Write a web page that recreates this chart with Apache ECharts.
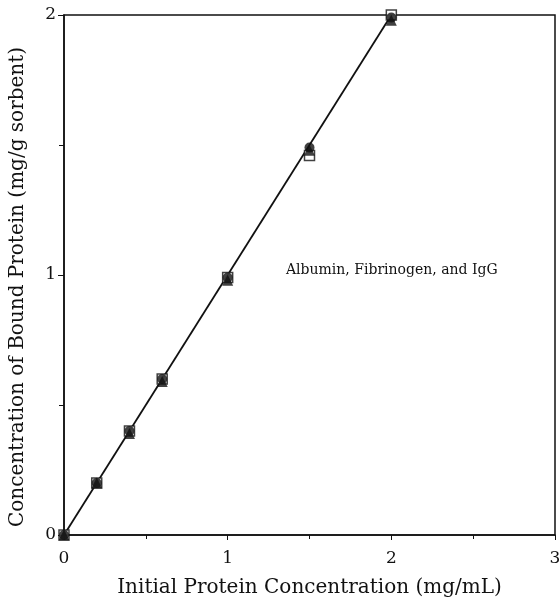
<!DOCTYPE html>
<html>
<head>
<meta charset="utf-8">
<script src="https://cdn.jsdelivr.net/npm/echarts@6/dist/echarts.min.js"></script>
<style>
  html, body { margin: 0; padding: 0; background: #fff; }
  #chart { width: 560px; height: 600px; }
</style>
</head>
<body>
<div id="chart"></div>
<script>
// initial protein concentration (mg/mL)
var conc = [0, 0.2, 0.4, 0.6, 1.0, 1.5, 2.0];
// bound protein (mg/g sorbent)
var albumin = [0, 0.2, 0.4, 0.6, 0.99, 1.46, 2.0];
var fibrinogen = [0, 0.2, 0.4, 0.6, 0.99, 1.49, 1.99];
var igg = [0, 0.2, 0.39, 0.59, 0.98, 1.48, 1.98];
// fitted line
var fitX = [0, 2.0];
var fitY = [0, 2.0];

var xTicks = [0, 1, 2, 3];
var yTicks = [0, 1, 2];

function pairs(xs, ys) {
    return xs.map(function (x, i) { return [x, ys[i]]; });
}

var chart = echarts.init(document.getElementById('chart'));
var font = '"DejaVu Serif", "Liberation Serif", serif';

var option = {
    animation: false,
    backgroundColor: '#fff',
    grid: {
        left: 64, right: 5, top: 15, bottom: 65,
        outerBoundsMode: 'none',
        show: true, borderColor: '#111', borderWidth: 1.5
    },
    xAxis: {
        type: 'value', min: 0, max: 3, interval: 1,
        name: 'Initial Protein Concentration (mg/mL)',
        nameLocation: 'middle', nameGap: 43,
        nameTextStyle: { fontFamily: font, fontSize: 20, color: '#111' },
        axisLine: { show: true, lineStyle: { color: '#111', width: 1.5 } },
        axisTick: { show: true, inside: false, length: 5, lineStyle: { color: '#111' } },
        minorTick: { show: true, splitNumber: 2, length: 4, lineStyle: { color: '#111' } },
        splitLine: { show: false },
        axisLabel: {
            fontFamily: font, fontSize: 17, color: '#111', margin: 15,
            formatter: function (v) { return xTicks.indexOf(v) >= 0 ? String(v) : ''; }
        }
    },
    yAxis: {
        type: 'value', min: 0, max: 2, interval: 1,
        name: 'Concentration of Bound Protein (mg/g sorbent)',
        nameLocation: 'middle', nameGap: 36,
        nameTextStyle: { fontFamily: font, fontSize: 20, color: '#111', padding: [0, 24, 0, 0] },
        axisLine: { show: true, lineStyle: { color: '#111', width: 1.5 } },
        axisTick: { show: true, inside: false, length: 6, lineStyle: { color: '#111' } },
        minorTick: { show: true, splitNumber: 2, length: 5, lineStyle: { color: '#111' } },
        splitLine: { show: false },
        axisLabel: {
            fontFamily: font, fontSize: 17, color: '#111', margin: 8,
            formatter: function (v) { return yTicks.indexOf(v) >= 0 ? String(v) : ''; }
        }
    },
    graphic: [{
        type: 'text', left: 286, top: 263,
        style: { text: 'Albumin, Fibrinogen, and IgG', font: '14px ' + font, fill: '#111' }
    }],
    series: [{
        name: 'fit', type: 'line', data: pairs(fitX, fitY),
        showSymbol: false, lineStyle: { color: '#111', width: 1.8 }, z: 1
    }, {
        name: 'Albumin', type: 'scatter', data: pairs(conc, albumin),
        symbol: 'rect', symbolSize: 10,
        itemStyle: { color: '#fff', borderColor: '#111', borderWidth: 1.5 }, z: 2
    }, {
        name: 'Fibrinogen', type: 'scatter', data: pairs(conc, fibrinogen),
        symbol: 'circle', symbolSize: 10,
        itemStyle: { color: '#111' }, z: 3
    }, {
        name: 'IgG', type: 'scatter', data: pairs(conc, igg),
        symbol: 'triangle', symbolSize: 11,
        itemStyle: { color: '#111' }, z: 4
    }]
};

chart.setOption(option);
</script>
</body>
</html>
